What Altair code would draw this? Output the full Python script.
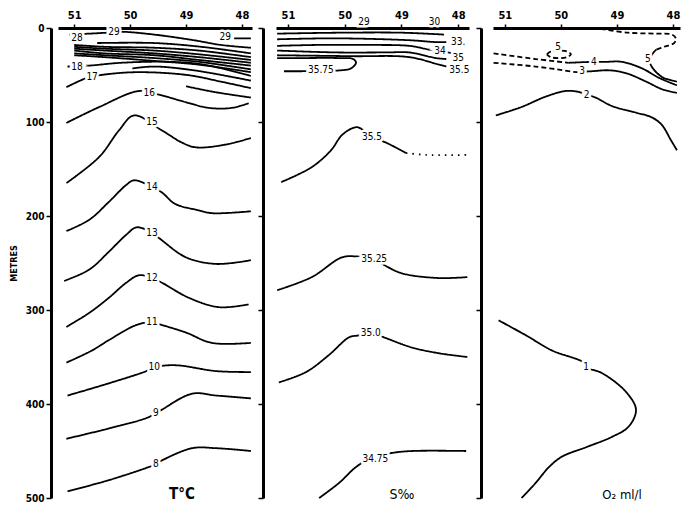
import pandas as pd
import altair as alt

FONT = "DejaVu Sans Condensed, DejaVu Sans, sans-serif"

# contours as (longitude W, depth m), read off the section
# temperature, deg C
t29 = [(51.09, 7), (50.41, 5), (50.16, 4), (49.57, 7), (48.86, 13), (48.38, 18), (47.84, 21)]
t29b = [(48.14, 11), (47.84, 11)]
t28 = [(50.59, 16), (49.57, 16), (48.73, 20), (47.84, 27)]
t27 = [(51.0, 18), (50.46, 20), (49.57, 21), (48.77, 24), (47.84, 31)]
t26 = [(51.0, 20), (50.46, 22), (49.57, 24), (48.77, 28), (47.84, 34)]
t25 = [(51.0, 22), (50.46, 24), (49.57, 27), (48.77, 31), (47.84, 37)]
t24 = [(51.0, 24), (50.46, 27), (49.57, 29), (48.77, 34), (47.84, 40)]
t23 = [(51.0, 27), (50.46, 29), (49.57, 32), (48.77, 36), (47.84, 44)]
t22 = [(51.0, 29), (50.46, 31), (49.57, 35), (48.77, 39), (47.84, 47)]
t18 = [(51.12, 41), (50.73, 40), (50.16, 37), (49.27, 36), (48.68, 39), (47.84, 51)]
t18b = [(49.96, 43), (49.57, 41), (48.86, 45), (47.84, 56)]
t17 = [(51.14, 63), (50.77, 53), (50.52, 50), (49.88, 47), (48.98, 50), (48.38, 57), (47.84, 64)]
t17b = [(49.0, 62), (48.5, 68), (47.84, 74)]
t16 = [(51.14, 101), (50.55, 84), (49.84, 67), (49.48, 71), (49.0, 79), (48.59, 85), (48.18, 85), (47.88, 80)]
t15 = [(51.14, 165), (50.55, 137), (50.2, 109), (49.93, 93), (49.43, 109), (49.07, 122), (48.82, 127), (48.29, 124), (47.84, 117)]
t14 = [(51.14, 216), (50.73, 204), (50.38, 185), (50.07, 167), (49.93, 162), (49.61, 169), (49.43, 175), (49.2, 187), (48.77, 194), (48.54, 197), (47.84, 195)]
t13 = [(51.18, 269), (50.73, 257), (50.38, 238), (50.07, 220), (49.88, 212), (49.61, 218), (49.45, 225), (49.0, 244), (48.46, 251), (47.84, 247)]
t12 = [(51.14, 318), (50.73, 303), (50.38, 287), (50.07, 271), (49.84, 263), (49.61, 266), (49.43, 271), (48.95, 287), (48.41, 297), (47.88, 294)]
t11 = [(51.14, 356), (50.68, 343), (50.38, 332), (49.89, 316), (49.61, 313), (49.43, 316), (49.0, 324), (48.54, 335), (47.84, 335)]
t10 = [(51.12, 391), (50.38, 378), (49.71, 365), (49.57, 361), (49.36, 359), (49.12, 359), (48.46, 365), (47.84, 366)]
t9 = [(51.14, 437), (50.38, 426), (49.71, 415), (49.54, 410), (49.43, 406), (48.89, 389), (48.46, 391), (47.84, 394)]
t8 = [(51.12, 493), (50.38, 481), (49.71, 468), (49.54, 464), (49.43, 460), (48.89, 447), (48.46, 447), (47.84, 450)]

t_text = ["29", "29", "28", "18", "17", "16", "15", "14", "13", "12", "11", "10", "9", "8"]
t_text_lon = [50.29, 48.30, 50.95, 50.95, 50.68, 49.66, 49.61, 49.61, 49.61, 49.61, 49.61, 49.57, 49.54, 49.54]
t_text_dep = [4, 10, 11, 41, 52, 69, 100, 169, 218, 266, 313, 361, 410, 464]

# salinity, per mille
s_top = [(51.19, 6), (50.10, 5), (48.99, 5), (48.25, 7)]
s33 = [(51.19, 12), (50.15, 11), (48.86, 13), (48.39, 15), (48.21, 15)]
s34 = [(51.19, 19), (50.45, 18), (49.57, 18), (48.86, 19), (48.51, 23), (48.07, 27)]
s35 = [(51.19, 24), (50.15, 26), (49.27, 26), (48.86, 26), (48.39, 32), (48.21, 33)]
s355a = [(51.19, 29), (49.87, 30), (48.86, 31), (48.34, 39), (48.21, 41)]
s3575 = [(51.07, 46), (50.07, 45), (49.89, 43), (49.80, 37), (49.85, 33), (50.10, 32), (50.81, 32), (51.19, 32)]
s355 = [(51.12, 164), (50.58, 148), (50.24, 130), (50.05, 114), (49.84, 106), (49.75, 106), (49.52, 116), (49.27, 122), (48.92, 133)]
s355_dots = [(48.92, 133), (48.56, 135), (47.81, 135)]
s3525 = [(51.19, 279), (50.58, 265), (50.05, 244), (49.80, 243), (49.48, 246), (49.31, 252), (48.99, 261), (48.34, 266), (47.84, 265)]
s350 = [(51.16, 377), (50.68, 366), (50.28, 348), (49.92, 329), (49.75, 327), (49.54, 324), (49.27, 330), (48.81, 340), (48.34, 346), (47.84, 350)]
s3475 = [(50.45, 500), (50.1, 484), (49.80, 467), (49.52, 457), (49.16, 452), (48.81, 450), (47.86, 450)]

s_text = ["29", "30", "33.", "34", "35", "35.5", "35.75", "35.5", "35.25", "35.0", "34.75"]
s_text_lon = [49.66, 48.42, 48.0, 48.32, 48.0, 47.98, 50.42, 49.52, 49.48, 49.54, 49.46]
s_text_dep = [-6, -6, 15, 24, 32, 45, 45, 116, 246, 324, 458]

# oxygen, ml/l
o5a = [(49.29, 1), (48.80, 5), (48.30, 6), (48.02, 7), (47.95, 11), (47.98, 16), (48.16, 20), (48.30, 23)]
o5b = [(48.30, 23), (48.42, 33), (48.38, 41), (48.20, 52), (48.07, 55), (47.93, 57)]
o5e = [(50.25, 28), (50.18, 25), (50.04, 24), (49.89, 25), (49.82, 28), (49.89, 31), (50.04, 32), (50.18, 31), (50.25, 28)]
o4a = [(51.2, 27), (50.45, 33), (49.86, 37)]
o4b = [(49.86, 37), (49.41, 36), (49.2, 36), (48.91, 36), (48.55, 43), (48.25, 53), (47.93, 61)]
o3a = [(51.2, 37), (50.45, 41), (49.73, 47)]
o3b = [(49.73, 47), (49.45, 46), (49.14, 45), (48.84, 48), (48.48, 57), (48.2, 65), (47.93, 69)]
o2 = [(51.16, 93), (50.70, 84), (50.27, 73), (49.91, 67), (49.68, 68), (49.54, 71), (49.38, 74), (49.09, 83), (48.66, 90), (48.38, 95), (48.2, 103), (48.04, 119), (47.93, 130)]
o1 = [(51.11, 311), (50.62, 327), (50.16, 343), (49.59, 356), (49.55, 361), (49.27, 367), (48.84, 387), (48.66, 406), (48.79, 424), (49.09, 435), (49.55, 446), (49.98, 456), (50.21, 467), (50.45, 484), (50.70, 500)]

o_text = ["5", "5", "4", "3", "2", "1"]
o_text_lon = [48.45, 50.05, 49.41, 49.62, 49.54, 49.55]
o_text_dep = [33, 20, 36, 46, 71, 361]


def lines_df(lines):
    rows = []
    for name, pts, dash in lines:
        for i, (lon, dep) in enumerate(pts):
            rows.append({"line": name, "lon": lon, "depth": dep, "i": i, "dash": dash})
    return pd.DataFrame(rows)


def panel(lines, text, text_lon, text_dep, dom, width, offset, caption, cap_x,
          cap_size=14, cap_weight="normal", first=False):
    df = lines_df(lines)
    labels = pd.DataFrame({"t": text, "lon": text_lon, "depth": text_dep})

    x = alt.X("lon:Q", title=None, scale=alt.Scale(domain=dom),
              axis=alt.Axis(orient="top", values=[51, 50, 49, 48], format="d", grid=False,
                            domainWidth=3, domainColor="black", tickColor="black",
                            tickWidth=1.5, tickSize=4, labelPadding=4, labelFont=FONT,
                            labelFontSize=11, labelFontWeight="bold", labelColor="black"))
    if first:
        yax = alt.Axis(values=[0, 100, 200, 300, 400, 500], offset=offset, grid=False,
                       domainWidth=3, domainColor="black", tickColor="black", tickWidth=1.5,
                       tickSize=5, labelPadding=2, labelFont=FONT, labelFontSize=10,
                       labelFontWeight="bold", labelColor="black", title="METRES",
                       titleFont=FONT, titleFontSize=9, titleFontWeight="bold",
                       titleColor="black", titlePadding=7)
    else:
        yax = alt.Axis(values=[0, 100, 200, 300, 400, 500], offset=offset, grid=False,
                       domainWidth=3, domainColor="black", tickColor="black", tickWidth=1.5,
                       tickSize=5, labels=False, title=None)
    y = alt.Y("depth:Q", title="METRES" if first else None,
              scale=alt.Scale(domain=[0, 500], reverse=True), axis=yax)

    curves = alt.Chart(df).mark_line(interpolate="catmull-rom", color="black",
                                     strokeWidth=1.8).encode(
        x=x, y=y, detail="line:N", order="i:Q",
        strokeDash=alt.StrokeDash("dash:N", legend=None,
                                  scale=alt.Scale(domain=["solid", "dashed", "dotted"],
                                                  range=[[1, 0], [5, 3], [1.5, 5]])))
    halo = alt.Chart(labels).mark_text(font=FONT, fontSize=10, stroke="white",
                                       strokeWidth=5, fill="white").encode(x=x, y=y, text="t:N")
    txt = alt.Chart(labels).mark_text(font=FONT, fontSize=10, color="black").encode(
        x=x, y=y, text="t:N")
    cap = alt.Chart(pd.DataFrame({"c": [caption]})).mark_text(
        font=FONT, fontSize=cap_size, fontWeight=cap_weight, color="black",
        baseline="alphabetic").encode(x=alt.value(cap_x), y=alt.value(471), text="c:N")
    return alt.layer(curves, halo, txt, cap).properties(width=width, height=470)


temp = [("t29", t29, "solid"), ("t29b", t29b, "solid"), ("t28", t28, "solid"),
        ("t27", t27, "solid"), ("t26", t26, "solid"), ("t25", t25, "solid"),
        ("t24", t24, "solid"), ("t23", t23, "solid"), ("t22", t22, "solid"),
        ("t18", t18, "solid"), ("t18b", t18b, "solid"), ("t17", t17, "solid"),
        ("t17b", t17b, "solid"), ("t16", t16, "solid"), ("t15", t15, "solid"),
        ("t14", t14, "solid"), ("t13", t13, "solid"), ("t12", t12, "solid"),
        ("t11", t11, "solid"), ("t10", t10, "solid"), ("t9", t9, "solid"), ("t8", t8, "solid")]
sal = [("s_top", s_top, "solid"), ("s33", s33, "solid"), ("s34", s34, "solid"),
       ("s35", s35, "solid"), ("s355a", s355a, "solid"), ("s3575", s3575, "solid"),
       ("s355", s355, "solid"), ("s355_dots", s355_dots, "dotted"), ("s3525", s3525, "solid"),
       ("s350", s350, "solid"), ("s3475", s3475, "solid")]
oxy = [("o5a", o5a, "dashed"), ("o5b", o5b, "solid"), ("o5e", o5e, "dashed"),
       ("o4a", o4a, "dashed"), ("o4b", o4b, "solid"), ("o3a", o3a, "dashed"),
       ("o3b", o3b, "solid"), ("o2", o2, "solid"), ("o1", o1, "solid")]

p1 = panel(temp, t_text, t_text_lon, t_text_dep, [51.29, 47.82], 194, 7, "T°C", 124,
           cap_size=15, cap_weight="bold", first=True)
p2 = panel(sal, s_text, s_text_lon, s_text_dep, [51.21, 47.81], 193, 13, "S‰", 126)
p3 = panel(oxy, o_text, o_text_lon, o_text_dep, [51.21, 47.875], 187, 12, "O₂ ml/l", 129,
           cap_size=13)

chart = alt.hconcat(p1, p2, p3, spacing=24, bounds="flush").configure_view(
    strokeWidth=0).properties(padding={"left": 1, "top": 1, "right": 0, "bottom": 0})

chart.save("out.html", embed_options={"renderer": "svg", "actions": False})
